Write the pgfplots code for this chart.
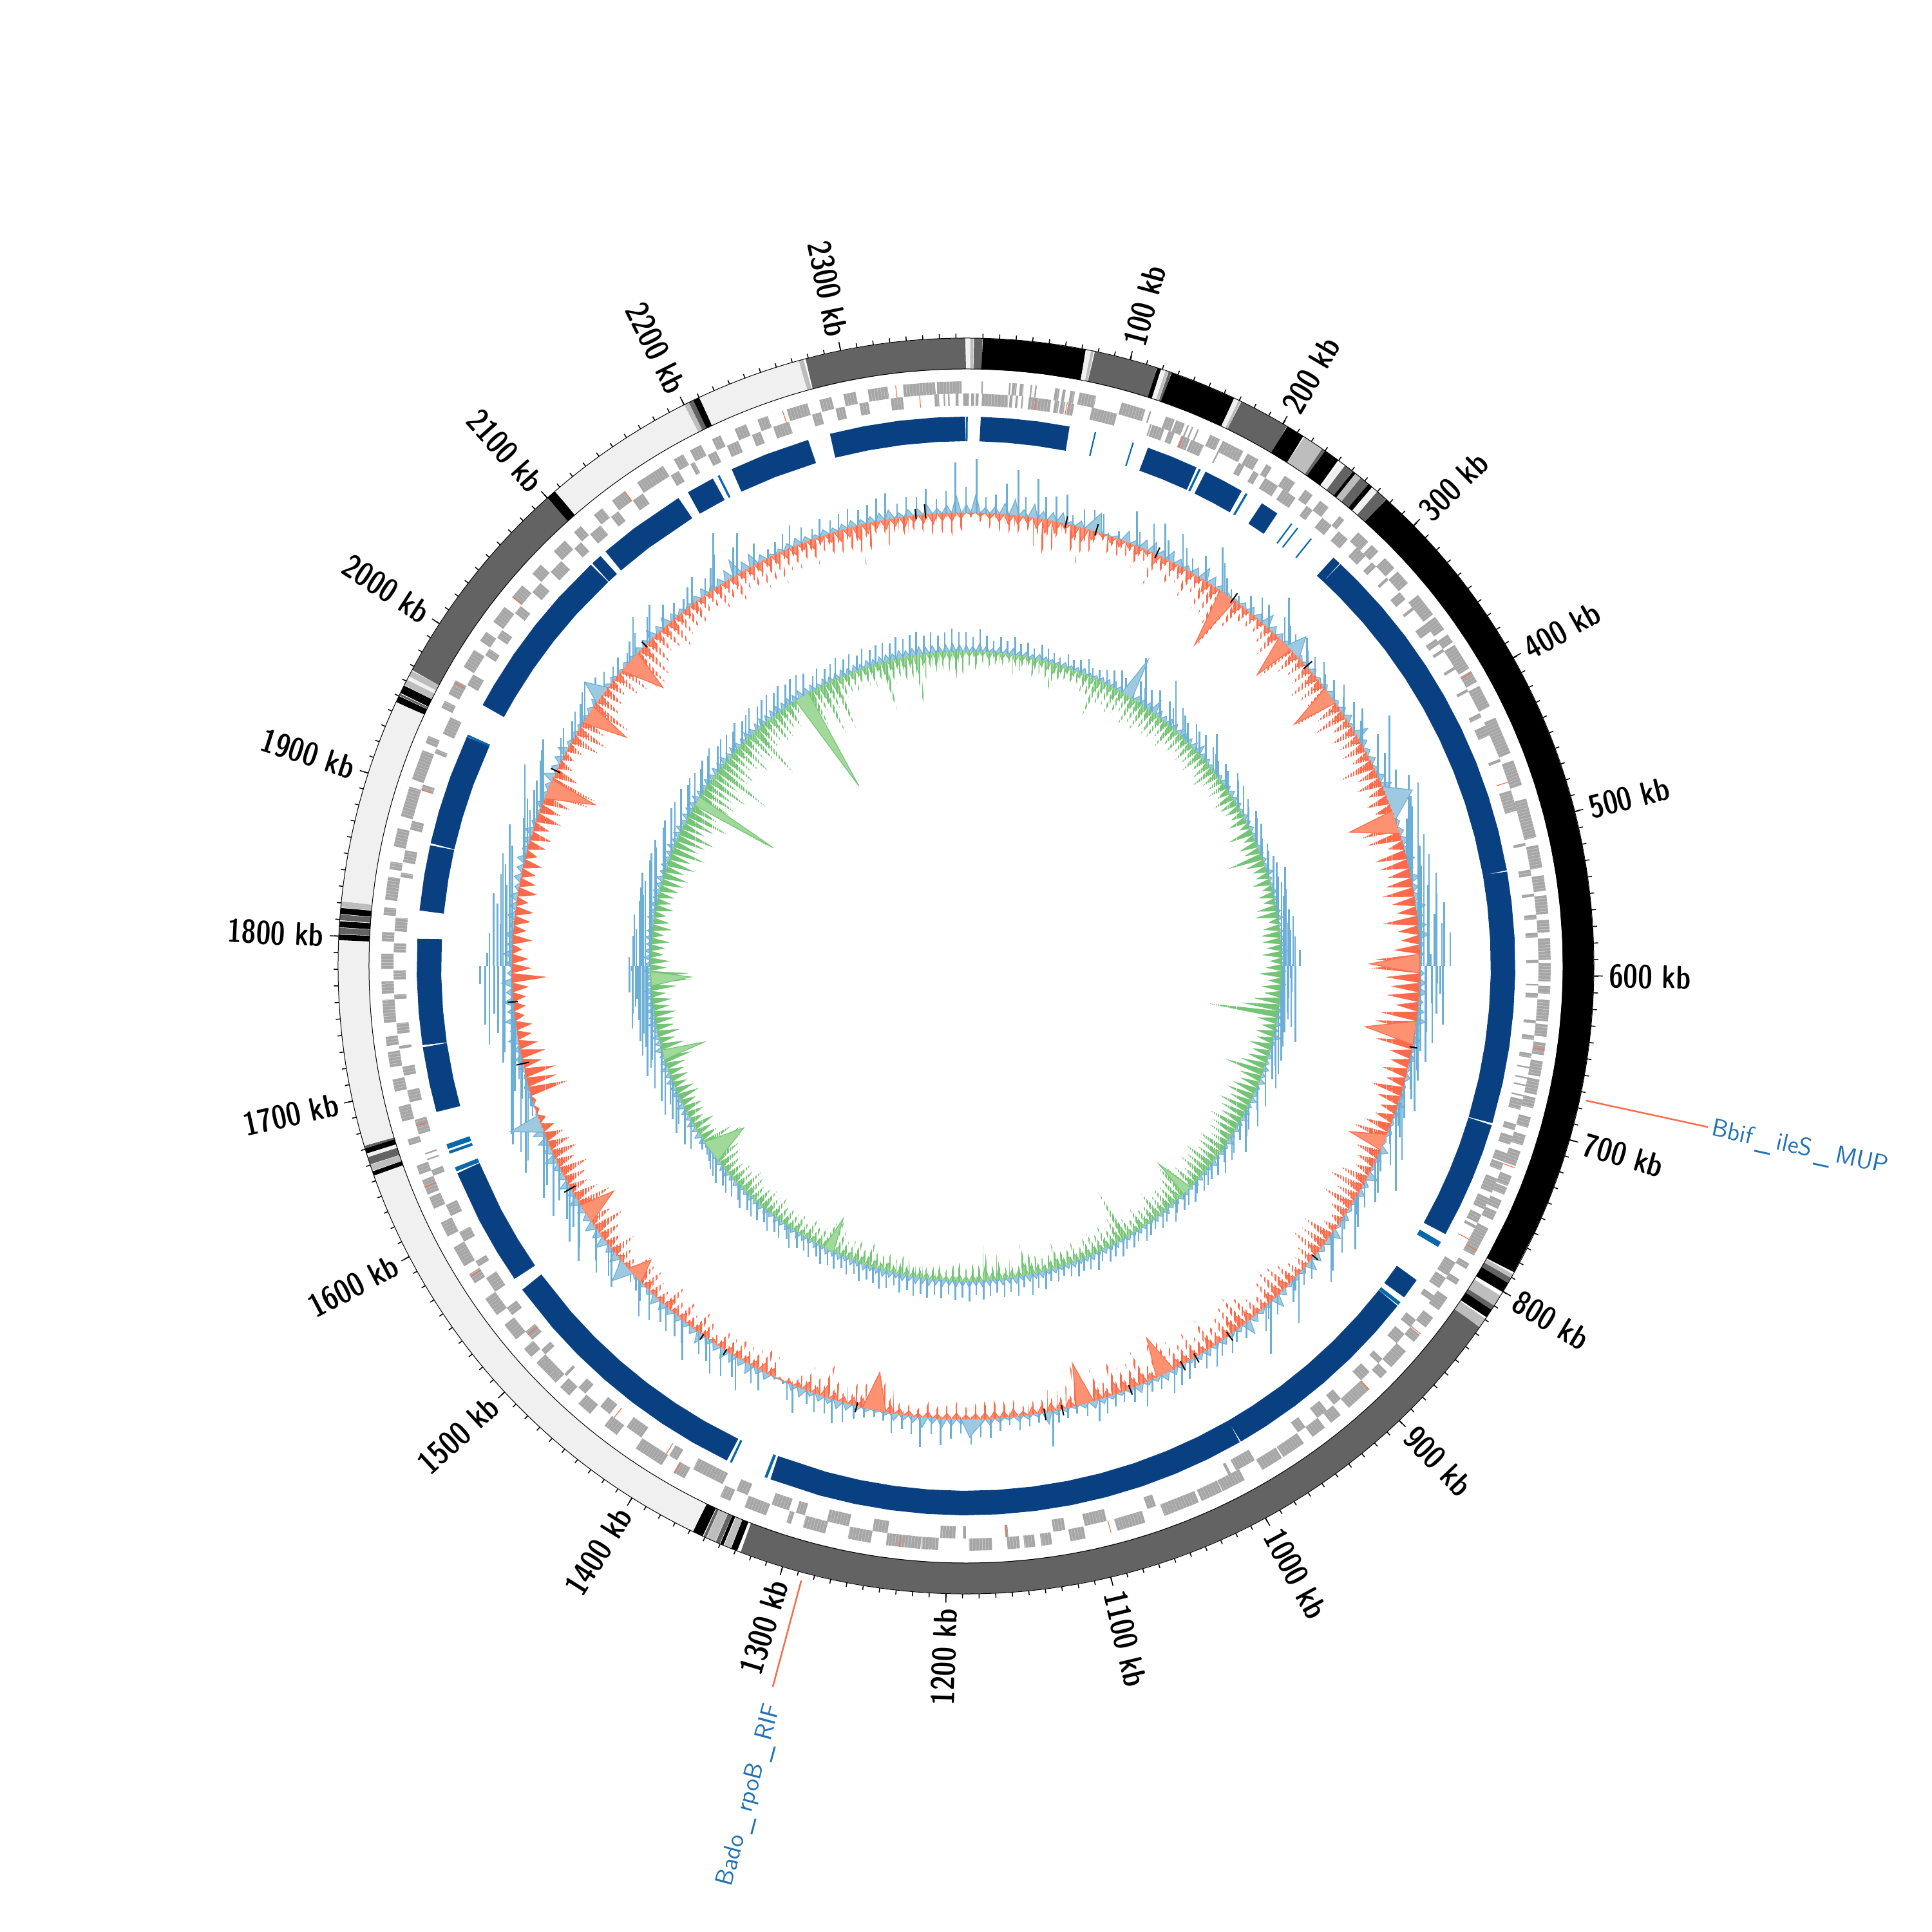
\documentclass[border=0pt]{standalone}
\usepackage{pgfplots}
\usepackage{pgfplotstable}
\pgfplotsset{compat=1.18}
\usepgfplotslibrary{polar}
\pgfplotstableset{row sep=crcr,header=false,x index=0,y index=0}

\definecolor{ringdark}{HTML}{636363}
\definecolor{ringmid}{HTML}{BDBDBD}
\definecolor{ringlight}{HTML}{F0F0F0}
\definecolor{blockblue}{HTML}{084081}
\definecolor{thinblue}{HTML}{0868AC}
\definecolor{genegray}{HTML}{A6A6A6}
\definecolor{redline}{HTML}{FB6A4A}
\definecolor{redfill}{HTML}{FC9272}
\definecolor{blueline}{HTML}{6BAED6}
\definecolor{bluefill}{HTML}{9ECAE1}
\definecolor{greenline}{HTML}{74C476}
\definecolor{greenfill}{HTML}{A1D99B}
\definecolor{labelblue}{HTML}{2171B5}

% GC track, 4 kb per row, signed offset from the baseline circle
\pgfplotstableread{
40\\ -8\\ 83\\ -15\\ 25\\ -25\\ 30\\ -35\\ 48\\ -42\\
70\\ -38\\ 30\\ -28\\ 60\\ -45\\ 35\\ -60\\ 38\\ -52\\
45\\ -25\\ 15\\ -55\\ 28\\ -59\\ 32\\ -42\\ 30\\ -15\\
4\\ -28\\ 12\\ -32\\ 50\\ -22\\ 22\\ -35\\ 42\\ -18\\
50\\ -53\\ 28\\ -25\\ 47\\ -40\\ 30\\ -28\\ 20\\ -45\\
34\\ -30\\ 58\\ -50\\ 40\\ -50\\ 22\\ -62\\ 12\\ -92\\
10\\ -50\\ 22\\ -28\\ 30\\ -25\\ 28\\ -22\\ 57\\ -30\\
30\\ -44\\ 26\\ -30\\ 22\\ -65\\ 31\\ -40\\ 18\\ -32\\
20\\ -36\\ 25\\ -52\\ 14\\ -44\\ 20\\ -40\\ 28\\ -71\\
16\\ -40\\ 25\\ -53\\ 30\\ -30\\ 18\\ -40\\ 60\\ -36\\
30\\ -38\\ 22\\ -30\\ 26\\ -57\\ 18\\ -32\\ 30\\ -40\\
45\\ -28\\ 54\\ -36\\ 35\\ -28\\ 32\\ -73\\ 18\\ -60\\
22\\ -55\\ 36\\ -25\\ 25\\ -50\\ 36\\ -45\\ 20\\ -35\\
40\\ -42\\ 24\\ -50\\ 35\\ -36\\ 45\\ -30\\ 28\\ -55\\
38\\ -32\\ 50\\ -28\\ 24\\ -40\\ 18\\ -70\\ 12\\ -77\\
20\\ -54\\ 28\\ -45\\ 34\\ -50\\ 22\\ -35\\ 30\\ -58\\
42\\ -65\\ 18\\ -77\\ 30\\ -60\\ 14\\ -35\\ 25\\ -30\\
15\\ -39\\ 20\\ -30\\ 12\\ -50\\ 18\\ -35\\ 28\\ -26\\
16\\ -30\\ 12\\ -42\\ 20\\ -55\\ 10\\ -55\\ 37\\ -38\\
24\\ -30\\ 14\\ -25\\ 49\\ -45\\ 26\\ -56\\ 30\\ -35\\
20\\ -51\\ 16\\ -30\\ 27\\ -20\\ 12\\ -23\\ 44\\ -50\\
30\\ -45\\ 22\\ -50\\ 36\\ -30\\ 46\\ -22\\ 20\\ -25\\
18\\ -35\\ 14\\ -45\\ 25\\ -50\\ 54\\ -40\\ 22\\ -25\\
18\\ -30\\ 30\\ -45\\ 62\\ -55\\ 20\\ -50\\ 16\\ -40\\
26\\ -32\\ 20\\ -50\\ 30\\ -30\\ 24\\ -45\\ 14\\ -35\\
25\\ -45\\ 28\\ -60\\ 34\\ -62\\ 20\\ -30\\ 18\\ -55\\
36\\ -40\\ 22\\ -40\\ 16\\ -57\\ 18\\ -25\\ 25\\ -50\\
33\\ -35\\ 20\\ -65\\ 12\\ -35\\ 16\\ -30\\ 20\\ -35\\
54\\ -30\\ 14\\ -32\\ 18\\ -20\\ 22\\ -35\\ 12\\ -30\\
20\\ -32\\ 30\\ -28\\ 28\\ -25\\ 39\\ -20\\ 22\\ -28\\
30\\ -24\\ 41\\ -20\\ 25\\ -28\\ 46\\ -15\\ 28\\ -22\\
22\\ -25\\ 30\\ -35\\ 14\\ -50\\ 10\\ -59\\ 15\\ -40\\
20\\ -35\\ 30\\ -25\\ 36\\ -30\\ 25\\ -54\\ 28\\ -30\\
20\\ -40\\ 40\\ -20\\ 25\\ -12\\ 5\\ -5\\ 4\\ -33\\
30\\ -45\\ 25\\ -30\\ 46\\ -28\\ 30\\ -35\\ 38\\ -25\\
44\\ -30\\ 30\\ -15\\ 28\\ -30\\ 50\\ -36\\ 30\\ -20\\
28\\ -35\\ 30\\ -25\\ 25\\ -43\\ 34\\ -20\\ 40\\ -25\\
22\\ -35\\ 15\\ -35\\ 12\\ -38\\ 38\\ -20\\ 30\\ -25\\
42\\ -41\\ 30\\ -25\\ 52\\ -35\\ 38\\ -52\\ 46\\ -38\\
28\\ -45\\ 30\\ -55\\ 45\\ -40\\ 25\\ -30\\ 44\\ -35\\
30\\ -45\\ 28\\ -30\\ 51\\ -40\\ 40\\ -35\\ 45\\ -30\\
52\\ -20\\ 49\\ -12\\ 8\\ -6\\ 6\\ -5\\ 15\\ -63\\
23\\ -48\\ 12\\ -50\\ 20\\ -30\\ 30\\ -39\\ 25\\ -30\\
46\\ -22\\ 30\\ -25\\ 48\\ -15\\ 32\\ -18\\ 45\\ -20\\
30\\ -25\\ 51\\ -55\\ 22\\ -30\\ 30\\ -25\\ 40\\ -15\\
25\\ -30\\ 38\\ -20\\ 22\\ -25\\ 34\\ -28\\ 30\\ -18\\
38\\ -30\\ 20\\ -25\\ 32\\ -22\\ 28\\ -30\\ 36\\ -18\\
25\\ -28\\ 33\\ -32\\ 38\\ -25\\ 20\\ -40\\ 15\\ -34\\
25\\ -45\\ 20\\ -70\\ 22\\ -76\\ 49\\ -40\\ 30\\ -22\\
35\\ -18\\ 41\\ -25\\ 18\\ -45\\ 22\\ -52\\ 16\\ -40\\
20\\ -60\\ 20\\ -68\\ 28\\ -40\\ 34\\ -35\\ 25\\ -30\\
20\\ -45\\ 15\\ -50\\ 18\\ -60\\ 12\\ -65\\ 22\\ -60\\
25\\ -46\\ 45\\ -35\\ 30\\ -40\\ 42\\ -52\\ 28\\ -38\\
20\\ -35\\ 15\\ -40\\ 26\\ -30\\ 35\\ -28\\ 22\\ -40\\
30\\ -35\\ 45\\ -46\\ 74\\ -30\\ 40\\ -38\\ 56\\ -45\\
30\\ -40\\ 12\\ -50\\ 18\\ -35\\ 25\\ -38\\ 33\\ -30\\
24\\ -42\\ 16\\ -25\\ 26\\ -40\\ 20\\ -49\\ 25\\ -40\\
30\\ -64\\ 24\\ -45\\ 28\\ -30\\ 35\\ -42\\ 41\\ -35\\
22\\ -44\\ 30\\ -30\\ 28\\ -38\\ 40\\ -45\\ 22\\ -35\\
35\\ -38\\ 78\\ -30\\
}\gcA

% skew track, same layout
\pgfplotstableread{
30\\ -25\\ 22\\ -30\\ 35\\ -20\\ 25\\ -33\\ 18\\ -22\\
25\\ -28\\ 20\\ -20\\ 28\\ -30\\ 18\\ -25\\ 22\\ -18\\
15\\ -30\\ 24\\ -22\\ 20\\ -35\\ 16\\ -50\\ 12\\ -28\\
20\\ -20\\ 15\\ -25\\ 18\\ -22\\ 25\\ -30\\ 14\\ -35\\
16\\ -62\\ 20\\ -40\\ 25\\ -35\\ 30\\ -45\\ 22\\ -38\\
65\\ -30\\ 30\\ -50\\ 25\\ -40\\ 28\\ -45\\ 35\\ -35\\
61\\ -40\\ 30\\ -38\\ 25\\ -30\\ 35\\ -42\\ 28\\ -30\\
22\\ -35\\ 30\\ -28\\ 25\\ -35\\ 28\\ -30\\ 41\\ -38\\
24\\ -25\\ 20\\ -32\\ 16\\ -40\\ 22\\ -28\\ 18\\ -25\\
29\\ -30\\ 22\\ -22\\ 25\\ -35\\ 18\\ -28\\ 20\\ -25\\
15\\ -20\\ 22\\ -30\\ 18\\ -15\\ 20\\ -40\\ 15\\ -18\\
12\\ -30\\ 16\\ -25\\ 14\\ -57\\ 18\\ -30\\ 20\\ -22\\
30\\ -20\\ 15\\ -28\\ 18\\ -15\\ 22\\ -24\\ 16\\ -18\\
14\\ -30\\ 20\\ -35\\ 25\\ -15\\ 16\\ -25\\ 18\\ -30\\
24\\ -28\\ 20\\ -22\\ 30\\ -30\\ 14\\ -18\\ 18\\ -25\\
22\\ -35\\ 16\\ -20\\ 24\\ -30\\ 18\\ -25\\ 14\\ -40\\
20\\ -60\\ 15\\ -113\\ 18\\ -30\\ 25\\ -22\\ 16\\ -30\\
36\\ -25\\ 18\\ -35\\ 14\\ -28\\ 22\\ -32\\ 16\\ -40\\
24\\ -64\\ 18\\ -35\\ 28\\ -30\\ 15\\ -40\\ 20\\ -45\\
25\\ -35\\ 16\\ -48\\ 22\\ -40\\ 28\\ -35\\ 18\\ -50\\
20\\ -42\\ 15\\ -38\\ 33\\ -30\\ 18\\ -45\\ 22\\ -40\\
15\\ -35\\ 26\\ -50\\ 20\\ -40\\ 16\\ -45\\ 18\\ -30\\
20\\ -42\\ 14\\ -50\\ 22\\ -60\\ 18\\ -45\\ 20\\ -35\\
15\\ -40\\ 25\\ -32\\ 16\\ -45\\ 20\\ -30\\ 14\\ -28\\
18\\ -35\\ 22\\ -25\\ 15\\ -30\\ 20\\ -86\\ 16\\ -42\\
24\\ -30\\ 18\\ -38\\ 22\\ -28\\ 16\\ -35\\ 26\\ -30\\
20\\ -25\\ 18\\ -32\\ 24\\ -28\\ 20\\ -25\\ 16\\ -40\\
22\\ -30\\ 18\\ -22\\ 28\\ -28\\ 24\\ -35\\ 32\\ -51\\
18\\ -25\\ 30\\ -30\\ 22\\ -25\\ 28\\ -40\\ 20\\ -30\\
24\\ -64\\ 30\\ -25\\ 22\\ -28\\ 32\\ -20\\ 26\\ -30\\
30\\ -25\\ 22\\ -18\\ 28\\ -30\\ 24\\ -22\\ 30\\ -25\\
25\\ -28\\ 30\\ -20\\ 22\\ -25\\ 28\\ -30\\ 20\\ -22\\
26\\ -35\\ 30\\ -25\\ 24\\ -30\\ 22\\ -40\\ 28\\ -28\\
20\\ -35\\ 25\\ -30\\ 18\\ -25\\ 24\\ -38\\ 22\\ -53\\
26\\ -45\\ 18\\ -30\\ 25\\ -28\\ 20\\ -35\\ 22\\ -22\\
28\\ -32\\ 18\\ -25\\ 24\\ -30\\ 20\\ -25\\ 25\\ -35\\
18\\ -28\\ 22\\ -34\\ 24\\ -30\\ 20\\ -25\\ 26\\ -35\\
18\\ -40\\ 22\\ -30\\ 24\\ -35\\ 20\\ -28\\ 25\\ -30\\
22\\ -40\\ 18\\ -45\\ 12\\ -55\\ 8\\ -62\\ 10\\ -50\\
24\\ -30\\ 28\\ -25\\ 22\\ -35\\ 30\\ -22\\ 20\\ -28\\
25\\ -30\\ 32\\ -25\\ 18\\ -35\\ 28\\ -30\\ 24\\ -22\\
30\\ -28\\ 26\\ -25\\ 34\\ -30\\ 25\\ -45\\ 20\\ -65\\
32\\ -38\\ 24\\ -25\\ 30\\ -35\\ 22\\ -28\\ 38\\ -30\\
26\\ -35\\ 34\\ -25\\ 28\\ -30\\ 24\\ -22\\ 35\\ -40\\
18\\ -61\\ 22\\ -60\\ 30\\ -25\\ 26\\ -30\\ 34\\ -20\\
28\\ -22\\ 24\\ -28\\ 30\\ -18\\ 26\\ -30\\ 22\\ -25\\
32\\ -18\\ 25\\ -28\\ 28\\ -22\\ 24\\ -25\\ 30\\ -30\\
26\\ -35\\ 34\\ -40\\ 24\\ -30\\ 28\\ -45\\ 30\\ -35\\
26\\ -55\\ 32\\ -40\\ 22\\ -48\\ 28\\ -60\\ 30\\ -38\\
24\\ -50\\ 30\\ -70\\ 30\\ -45\\ 26\\ -138\\ 32\\ -55\\
26\\ -60\\ 30\\ -50\\ 28\\ -70\\ 24\\ -45\\ 30\\ -95\\
28\\ -50\\ 34\\ -55\\ 26\\ -40\\ 30\\ -48\\ 28\\ -60\\
24\\ -40\\ 32\\ -55\\ 26\\ -90\\ 30\\ -45\\ 35\\ -40\\
28\\ -50\\ 32\\ -45\\ 34\\ -35\\ 30\\ -40\\ 35\\ -25\\
30\\ -35\\ 34\\ -164\\ 34\\ -60\\ 30\\ -40\\ 20\\ -86\\
28\\ -45\\ 22\\ -85\\ 25\\ -35\\ 30\\ -30\\ 24\\ -35\\
28\\ -28\\ 22\\ -30\\ 30\\ -35\\ 24\\ -28\\ 28\\ -80\\
30\\ -40\\ 26\\ -30\\ 34\\ -45\\ 28\\ -35\\ 32\\ -89\\
36\\ -40\\ 28\\ -30\\ 32\\ -45\\ 26\\ -35\\ 30\\ -40\\
35\\ -45\\ 30\\ -38\\
}\gcB

\begin{document}
\begin{tikzpicture}
\path[use as bounding box] (-15cm,-15cm) rectangle (15cm,15cm);

\begin{polaraxis}[
    at={(0,0)},anchor=origin,scale only axis,width=30cm,height=30cm,
    xmin=-270,xmax=90,ymin=0,ymax=1500,
    hide axis,clip=false,
    unbounded coords=jump,
    x filter/.expression={90-0.15152*x},
]
% GC track: low filled band plus one needle per reading, blue out, red in.
% ycomb runs from the centre, so the inner end of each needle is painted over.
\addplot[draw=blueline,fill=bluefill,line width=.12mm] table[x expr=4*\coordindex,y expr={704+0.35*max(\thisrowno{0},0)}] {\gcA};
\addplot[ycomb,blueline,line width=.25mm] table[x expr=4*\coordindex,y expr={704+max(\thisrowno{0},0)}] {\gcA};
\addplot[draw=blueline,fill=bluefill,line width=.12mm] coordinates {(1640,704)(1650,753)(1655,704)};
\addplot[draw=blueline,fill=bluefill,line width=.12mm] coordinates {(297,704)(303,735)(312,704)};
\addplot[draw=blueline,fill=bluefill,line width=.12mm] coordinates {(440,704)(452,745)(470,704)};
\addplot[draw=blueline,fill=bluefill,line width=.12mm] coordinates {(1172,704)(1185,732)(1192,704)};
\addplot[draw=blueline,fill=bluefill,line width=.12mm] coordinates {(2016,704)(2024,738)(2032,704)};
\addplot[draw=blueline,fill=bluefill,line width=.12mm] coordinates {(1500,704)(1507,735)(1515,704)};
\addplot[draw=blueline,fill=bluefill,line width=.12mm] coordinates {(100,704)(110,734)(115,704)};
\addplot[draw=none,fill=redfill] table[x expr=4*\coordindex,y expr=704] {\gcA};
\addplot[draw=redline,fill=white,line width=.12mm] table[x expr=4*\coordindex,y expr={704+0.35*min(\thisrowno{0},0)}] {\gcA};
\addplot[ycomb,redline,line width=.25mm] table[x expr=4*\coordindex,y expr=704] {\gcA};
\addplot[draw=none,fill=white] table[x expr=4*\coordindex,y expr={704+min(\thisrowno{0},0)}] {\gcA};
\addplot[draw=redline,fill=redfill,line width=.12mm] coordinates {(225,704)(234,612)(240,704)};
\addplot[draw=redline,fill=redfill,line width=.12mm] coordinates {(584,704)(592,627)(600,704)};
\addplot[draw=redline,fill=redfill,line width=.12mm] coordinates {(640,704)(651,627)(660,704)};
\addplot[draw=redline,fill=redfill,line width=.12mm] coordinates {(462,704)(467,631)(482,704)};
\addplot[draw=redline,fill=redfill,line width=.12mm] coordinates {(1080,704)(1089,639)(1095,704)};
\addplot[draw=redline,fill=redfill,line width=.12mm] coordinates {(1490,704)(1498,669)(1506,704)};
\addplot[draw=redline,fill=redfill,line width=.12mm] coordinates {(1555,704)(1567,649)(1572,704)};
\addplot[draw=redline,fill=redfill,line width=.12mm] coordinates {(1925,704)(1937,628)(1942,704)};
\addplot[draw=redline,fill=redfill,line width=.12mm] coordinates {(1996,704)(2006,636)(2012,704)};
\addplot[draw=redline,fill=redfill,line width=.12mm] coordinates {(2050,704)(2063,639)(2070,704)};
\addplot[draw=redline,fill=redfill,line width=.12mm] coordinates {(1255,704)(1267,645)(1275,704)};
\addplot[draw=redline,fill=redfill,line width=.12mm] coordinates {(1008,704)(1017,642)(1024,704)};
\addplot[draw=redline,fill=redfill,line width=.12mm] coordinates {(738,704)(748,649)(752,704)};
\addplot[draw=redline,fill=redfill,line width=.12mm] coordinates {(345,704)(354,633)(360,704)};
\addplot[draw=redline,fill=redfill,line width=.12mm] coordinates {(288,704)(297,639)(302,704)};
\addplot[black,line width=.2mm] coordinates {
(84,698)(84,716)(nan,nan)(110,698)(110,716)(nan,nan)(164,698)(164,716)(nan,nan)(238,698)(238,716)(nan,nan)
(321,698)(321,716)(nan,nan)(662,700)(662,712)(nan,nan)(857,700)(857,712)(nan,nan)(954,698)(954,714)(nan,nan)
(987,698)(987,714)(nan,nan)(1000,698)(1000,714)(nan,nan)(1048,698)(1048,714)(nan,nan)(1107,698)(1107,714)(nan,nan)
(1122,698)(1122,716)(nan,nan)(1280,698)(1280,714)(nan,nan)(1399,702)(1399,712)(nan,nan)(1422,702)(1422,712)(nan,nan)
(1588,696)(1588,716)(nan,nan)(1700,695)(1700,715)(nan,nan)(1752,698)(1752,714)(nan,nan)(1950,698)(1950,714)(nan,nan)
(2079,700)(2079,712)(nan,nan)(2334,698)(2334,714)(nan,nan)(2342,698)(2342,720)
};
% skew track: blue out, green in
\addplot[draw=blueline,fill=bluefill,line width=.12mm] table[x expr=4*\coordindex,y expr={489+0.35*max(\thisrowno{0},0)}] {\gcB};
\addplot[ycomb,blueline,line width=.25mm] table[x expr=4*\coordindex,y expr={489+max(\thisrowno{0},0)}] {\gcB};
\addplot[draw=blueline,fill=bluefill,line width=.12mm] coordinates {(196,489)(203,554)(210,489)};
\addplot[draw=none,fill=greenfill] table[x expr=4*\coordindex,y expr=489] {\gcB};
\addplot[draw=greenline,fill=white,line width=.12mm] table[x expr=4*\coordindex,y expr={489+0.35*min(\thisrowno{0},0)}] {\gcB};
\addplot[ycomb,greenline,line width=.25mm] table[x expr=4*\coordindex,y expr=489] {\gcB};
\addplot[draw=none,fill=white] table[x expr=4*\coordindex,y expr={489+min(\thisrowno{0},0)}] {\gcB};
\addplot[draw=greenline,fill=greenfill,line width=.12mm] coordinates {(2160,489)(2173,325)(2178,489)};
\addplot[draw=greenline,fill=greenfill,line width=.12mm] coordinates {(1984,489)(1990,351)(1996,489)};
\addplot[draw=greenline,fill=greenfill,line width=.12mm] coordinates {(1530,489)(1544,427)(1558,489)};
\addplot[draw=greenline,fill=greenfill,line width=.12mm] coordinates {(1668,489)(1675,424)(1680,489)};
\addplot[draw=greenline,fill=greenfill,line width=.12mm] coordinates {(1758,489)(1767,428)(1775,489)};
\addplot[draw=greenline,fill=greenfill,line width=.12mm] coordinates {(1352,489)(1359,436)(1365,489)};
\addplot[draw=greenline,fill=greenfill,line width=.12mm] coordinates {(888,489)(896,429)(900,489)};

% outer band
\addplot[ringdark,line width=4.8mm] table[x index=0,y expr=951] {
4.8\\ 10\\ nan\\ 78\\ 97\\ 117\\ nan\\ 124.3\\ 126\\ nan\\ 171.5\\ 187\\ 203\\ nan\\ 228\\ 230\\ nan\\ 245\\ 251\\ nan\\ 257\\ 263\\ nan\\ 270\\ 277\\ nan\\
790.5\\ 794\\ nan\\ 810\\ 813\\ nan\\
825.5\\ 845\\ 865\\ 885\\ 905\\ 925\\ 945\\ 965\\ 985\\ 1005\\ 1025\\ 1045\\ 1065\\ 1085\\ 1105\\ 1125\\ 1145\\ 1165\\ 1185\\ 1205\\ 1225\\ 1245\\ 1265\\ 1285\\ 1305\\ 1327\\ nan\\
1340.3\\ 1343\\ nan\\ 1349.3\\ 1351\\ nan\\ 1660.3\\ 1665\\ nan\\ 1670.5\\ 1672\\ nan\\ 1801.3\\ 1805\\ nan\\ 1809.5\\ 1813\\ nan\\ 1950.3\\ 1951.5\\ nan\\
1967.3\\ 1987\\ 2007\\ 2027\\ 2047\\ 2067\\ 2087\\ 2100\\ nan\\ 2203\\ 2206\\ nan\\
2278\\ 2298\\ 2318\\ 2338\\ 2358\\ 2375.7\\
};
\addplot[black,line width=4.8mm] table[x index=0,y expr=951] {
10\\ 30\\ 50\\ 72.8\\ nan\\ 117\\ 119.5\\ nan\\ 126\\ 146\\ 167\\ nan\\ 203\\ 214.5\\ nan\\ 230\\ 240\\ nan\\ 251\\ 253\\ nan\\ 263\\ 266\\ nan\\
277\\ 297\\ 317\\ 337\\ 357\\ 377\\ 397\\ 417\\ 437\\ 457\\ 477\\ 497\\ 517\\ 537\\ 557\\ 577\\ 597\\ 617\\ 637\\ 657\\ 677\\ 697\\ 717\\ 737\\ 757\\ 787\\ nan\\
794\\ 800.5\\ nan\\ 813\\ 818.5\\ nan\\ 1329\\ 1333\\ nan\\ 1338\\ 1340\\ nan\\ 1351.5\\ 1358\\ nan\\ 1653.3\\ 1656\\ nan\\ 1667.3\\ 1670.5\\ nan\\
1797.5\\ 1801\\ nan\\ 1805.3\\ 1809\\ nan\\ 1813.3\\ 1817\\ nan\\ 1946\\ 1950\\ nan\\ 1952\\ 1957\\ nan\\ 2100\\ 2106\\ nan\\ 2206\\ 2210\\
};
\addplot[ringmid,line width=4.8mm] table[x index=0,y expr=951] {
2.6\\ 4.5\\ nan\\ 75.8\\ 77.5\\ nan\\ 122.3\\ 124\\ nan\\ 169.8\\ 171.3\\ nan\\ 215\\ 228\\ nan\\ 253\\ 257\\ nan\\ 788\\ 790.5\\ nan\\ 803\\ 810\\ nan\\ 819.5\\ 825.5\\ nan\\
1333.3\\ 1337.5\\ nan\\ 1343.3\\ 1349\\ nan\\ 1656.3\\ 1660\\ nan\\ 1817.3\\ 1821\\ nan\\ 1957.3\\ 1961\\ nan\\ 1963.3\\ 1967\\ nan\\ 2200\\ 2203\\ nan\\ 2274\\ 2277\\
};
\addplot[ringlight,line width=4.8mm] table[x index=0,y expr=951] {
0.2\\ 2.3\\ nan\\ 73\\ 75.5\\ nan\\ 120\\ 122\\ nan\\ 167\\ 169.5\\ nan\\ 241\\ 245\\ nan\\ 266\\ 270\\ nan\\
1358\\ 1378\\ 1398\\ 1418\\ 1438\\ 1458\\ 1478\\ 1498\\ 1518\\ 1538\\ 1558\\ 1578\\ 1598\\ 1618\\ 1638\\ 1653\\ nan\\ 1665\\ 1667\\ nan\\
1672\\ 1692\\ 1712\\ 1732\\ 1752\\ 1772\\ 1797\\ nan\\ 1821\\ 1841\\ 1861\\ 1881\\ 1901\\ 1921\\ 1946\\ nan\\ 1961.3\\ 1963\\ nan\\
2106\\ 2126\\ 2146\\ 2166\\ 2186\\ 2200\\ nan\\ 2210\\ 2230\\ 2250\\ 2274\\
};

% gene rows, start and end of each block in kb
\addplot[genegray,line width=1.9mm,dash pattern=on .45mm off .05mm] table[x index=0,y expr=898.5] {
10\\ 11\\ nan\\ 28\\ 29\\ nan\\ 30\\ 33\\ nan\\ 35\\ 37.5\\ nan\\ 42\\ 43\\ nan\\ 45\\ 46\\ nan\\ 58\\ 61\\ nan\\ 63\\ 65\\ nan\\ 68\\ 71\\ nan\\ 74\\ 85\\ nan\\
102\\ 118\\ nan\\ 121\\ 122\\ nan\\ 132\\ 138\\ nan\\ 139\\ 145\\ nan\\ 147\\ 148\\ nan\\ 150\\ 151\\ nan\\ 154\\ 155\\ nan\\ 163\\ 170\\ nan\\ 172\\ 187\\ nan\\
190\\ 198\\ nan\\ 204\\ 208\\ nan\\ 218\\ 226\\ nan\\ 234\\ 240\\ nan\\ 246\\ 253\\ nan\\ 262\\ 266\\ nan\\ 278\\ 287\\ nan\\ 290\\ 296\\ nan\\ 302\\ 311\\ nan\\
314\\ 324\\ nan\\ 334\\ 350\\ nan\\ 352\\ 362\\ nan\\ 366\\ 372\\ nan\\ 374\\ 392\\ nan\\ 394\\ 402\\ nan\\ 405\\ 420\\ nan\\ 428\\ 453\\ nan\\ 458\\ 475\\ nan\\
484\\ 510\\ nan\\ 515\\ 530\\ nan\\ 535\\ 545\\ nan\\ 548\\ 560\\ nan\\ 564\\ 572\\ nan\\ 576\\ 590\\ nan\\ 592\\ 604\\ nan\\ 607\\ 612\\ nan\\ 616\\ 630\\ nan\\
632\\ 640\\ nan\\ 644\\ 652\\ nan\\ 656\\ 666\\ nan\\ 668\\ 678\\ nan\\ 680\\ 687\\ nan\\ 693\\ 700\\ nan\\ 705\\ 712\\ nan\\ 716\\ 726\\ nan\\ 733\\ 740\\ nan\\
741\\ 746\\ nan\\ 750\\ 756\\ nan\\ 758\\ 764\\ nan\\ 770\\ 790\\ nan\\ 796\\ 800\\ nan\\ 808\\ 812\\ nan\\ 822\\ 832\\ nan\\ 838\\ 846\\ nan\\ 852\\ 858\\ nan\\
866\\ 880\\ nan\\ 884\\ 890\\ nan\\ 900\\ 918\\ nan\\ 925\\ 933\\ nan\\ 938\\ 948\\ nan\\ 955\\ 971\\ nan\\ 972\\ 987\\ nan\\ 1000\\ 1016\\ nan\\ 1016.5\\ 1031\\ nan\\
1033\\ 1057\\ nan\\ 1070\\ 1089\\ nan\\ 1110\\ 1120\\ nan\\ 1132\\ 1139\\ nan\\ 1143\\ 1150\\ nan\\ 1153\\ 1161\\ nan\\ 1171\\ 1186\\ nan\\ 1206\\ 1217\\ nan\\
1217.5\\ 1240\\ nan\\ 1250\\ 1265\\ nan\\ 1280\\ 1295\\ nan\\ 1303\\ 1306\\ nan\\ 1320\\ 1335\\ nan\\ 1345\\ 1352\\ nan\\ 1378\\ 1386\\ nan\\ 1395\\ 1415\\ nan\\
1430\\ 1440\\ nan\\ 1452\\ 1462\\ nan\\ 1470\\ 1478\\ nan\\ 1482\\ 1500\\ nan\\ 1505\\ 1512\\ nan\\ 1520\\ 1532\\ nan\\ 1540\\ 1553\\ nan\\ 1565\\ 1572\\ nan\\
1578\\ 1592\\ nan\\ 1600\\ 1610\\ nan\\ 1620\\ 1628\\ nan\\ 1630\\ 1640\\ nan\\ 1644\\ 1650\\ nan\\ 1664\\ 1668\\ nan\\ 1680\\ 1690\\ nan\\ 1700\\ 1708\\ nan\\
1716\\ 1726\\ nan\\ 1730\\ 1736\\ nan\\ 1745\\ 1760\\ nan\\ 1764\\ 1772\\ nan\\ 1780\\ 1790\\ nan\\ 1798\\ 1804\\ nan\\ 1815\\ 1820\\ nan\\ 1825\\ 1840\\ nan\\
1845\\ 1850\\ nan\\ 1860\\ 1872\\ nan\\ 1880\\ 1900\\ nan\\ 1905\\ 1925\\ nan\\ 1930\\ 1935\\ nan\\ 1955\\ 1960\\ nan\\ 1965\\ 1975\\ nan\\ 1985\\ 1998\\ nan\\
2005\\ 2012\\ nan\\ 2020\\ 2032\\ nan\\ 2040\\ 2050\\ nan\\ 2060\\ 2068\\ nan\\ 2080\\ 2090\\ nan\\ 2098\\ 2104\\ nan\\ 2115\\ 2122\\ nan\\ 2130\\ 2140\\ nan\\
2150\\ 2170\\ nan\\ 2178\\ 2185\\ nan\\ 2190\\ 2198\\ nan\\ 2206\\ 2212\\ nan\\ 2222\\ 2230\\ nan\\ 2238\\ 2245\\ nan\\ 2258\\ 2272\\ nan\\ 2280\\ 2288\\ nan\\
2296\\ 2304\\ nan\\ 2312\\ 2325\\ nan\\ 2335\\ 2356\\ nan\\ 2357\\ 2373\\
};
\addplot[genegray,line width=1.9mm,dash pattern=on .45mm off .05mm] table[x index=0,y expr=879.5] {
0\\ 2\\ nan\\ 3.5\\ 5.5\\ nan\\ 6.4\\ 8.5\\ nan\\ 10.6\\ 28\\ nan\\ 29\\ 31\\ nan\\ 33\\ 34.5\\ nan\\ 37\\ 38\\ nan\\ 41.7\\ 56.5\\ nan\\ 59\\ 62\\ nan\\ 63\\ 66\\ nan\\
68\\ 72\\ nan\\ 84\\ 101\\ nan\\ 124\\ 125\\ nan\\ 125.5\\ 134\\ nan\\ 137\\ 141\\ nan\\ 146\\ 152\\ nan\\ 153\\ 162\\ nan\\ 172\\ 173\\ nan\\ 188\\ 192\\ nan\\
199\\ 203\\ nan\\ 208\\ 218\\ nan\\ 222\\ 232\\ nan\\ 241\\ 246\\ nan\\ 254\\ 262\\ nan\\ 268\\ 276\\ nan\\ 284\\ 292\\ nan\\ 298\\ 302\\ nan\\ 312\\ 314\\ nan\\
325\\ 331\\ nan\\ 338\\ 340\\ nan\\ 352\\ 358\\ nan\\ 364\\ 368\\ nan\\ 372\\ 374\\ nan\\ 386\\ 388\\ nan\\ 403\\ 405\\ nan\\ 421\\ 424\\ nan\\ 430\\ 437\\ nan\\
454\\ 456\\ nan\\ 476\\ 490\\ nan\\ 512\\ 514\\ nan\\ 530\\ 534\\ nan\\ 546\\ 548\\ nan\\ 560\\ 563\\ nan\\ 572\\ 575\\ nan\\ 590\\ 592\\ nan\\ 606\\ 607\\ nan\\
612\\ 615\\ nan\\ 630\\ 632\\ nan\\ 640\\ 643\\ nan\\ 652\\ 655\\ nan\\ 661\\ 662\\ nan\\ 668\\ 669\\ nan\\ 673\\ 674\\ nan\\ 680\\ 681\\ nan\\ 683\\ 690\\ nan\\
700\\ 704\\ nan\\ 708\\ 714\\ nan\\ 720\\ 726\\ nan\\ 727\\ 732\\ nan\\ 738\\ 748\\ nan\\ 752\\ 760\\ nan\\ 764\\ 770\\ nan\\ 772\\ 774\\ nan\\ 800\\ 810\\ nan\\
812\\ 820\\ nan\\ 826\\ 830\\ nan\\ 846\\ 852\\ nan\\ 858\\ 866\\ nan\\ 880\\ 884\\ nan\\ 892\\ 900\\ nan\\ 918\\ 924\\ nan\\ 930\\ 938\\ nan\\ 948\\ 954\\ nan\\
988\\ 1002\\ nan\\ 1006\\ 1008\\ nan\\ 1060\\ 1066\\ nan\\ 1094\\ 1109\\ nan\\ 1122\\ 1130\\ nan\\ 1160\\ 1162\\ nan\\ 1188\\ 1190\\ nan\\ 1195\\ 1205\\ nan\\
1240\\ 1250\\ nan\\ 1266\\ 1281\\ nan\\ 1296\\ 1302\\ nan\\ 1307\\ 1319\\ nan\\ 1336\\ 1344\\ nan\\ 1354\\ 1376\\ nan\\ 1388\\ 1394\\ nan\\ 1416\\ 1428\\ nan\\
1442\\ 1450\\ nan\\ 1463\\ 1469\\ nan\\ 1480\\ 1482\\ nan\\ 1500\\ 1504\\ nan\\ 1513\\ 1520\\ nan\\ 1534\\ 1540\\ nan\\ 1553\\ 1564\\ nan\\ 1573\\ 1577\\ nan\\
1592\\ 1599\\ nan\\ 1611\\ 1619\\ nan\\ 1640\\ 1644\\ nan\\ 1651\\ 1652\\ nan\\ 1655\\ 1656\\ nan\\ 1669\\ 1679\\ nan\\ 1691\\ 1699\\ nan\\ 1709\\ 1715\\ nan\\
1727\\ 1729\\ nan\\ 1737\\ 1744\\ nan\\ 1760\\ 1763\\ nan\\ 1773\\ 1779\\ nan\\ 1791\\ 1797\\ nan\\ 1805\\ 1814\\ nan\\ 1841\\ 1844\\ nan\\ 1851\\ 1859\\ nan\\
1873\\ 1879\\ nan\\ 1900\\ 1904\\ nan\\ 1926\\ 1929\\ nan\\ 1940\\ 1952\\ nan\\ 1976\\ 1984\\ nan\\ 1999\\ 2004\\ nan\\ 2013\\ 2019\\ nan\\ 2033\\ 2039\\ nan\\
2051\\ 2059\\ nan\\ 2069\\ 2079\\ nan\\ 2091\\ 2097\\ nan\\ 2105\\ 2114\\ nan\\ 2123\\ 2129\\ nan\\ 2141\\ 2149\\ nan\\ 2171\\ 2177\\ nan\\ 2186\\ 2189\\ nan\\
2199\\ 2205\\ nan\\ 2213\\ 2221\\ nan\\ 2231\\ 2237\\ nan\\ 2246\\ 2257\\ nan\\ 2273\\ 2279\\ nan\\ 2289\\ 2295\\ nan\\ 2305\\ 2311\\ nan\\ 2326\\ 2334\\ nan\\
2355\\ 2358\\ nan\\ 2361\\ 2362\\ nan\\ 2364\\ 2365\\ nan\\ 2369\\ 2371\\ nan\\ 2374\\ 2376\\
};
% red genes
\addplot[redline,line width=1.9mm] table[x index=0,y expr=879.5] {
46\\ 46.5\\ nan\\ 67\\ 67.5\\ nan\\ 147\\ 147.5\\ nan\\ 470\\ 470.5\\ nan\\ 782\\ 782.5\\ nan\\ 1161\\ 1161.5\\ nan\\ 1396\\ 1396.5\\ nan\\ 1438\\ 1438.5\\ nan\\ 1517\\ 1517.5\\ nan\\ 1675\\ 1675.5\\ nan\\ 1900\\ 1900.5\\ nan\\ 2345\\ 2345.5\\
};
\addplot[redline,line width=1.9mm] table[x index=0,y expr=898.5] {
395\\ 395.5\\ nan\\ 648\\ 648.5\\ nan\\ 727\\ 727.5\\ nan\\ 786\\ 786.5\\ nan\\ 851\\ 851.5\\ nan\\ 900\\ 900.5\\ nan\\ 1093\\ 1093.5\\ nan\\ 1231\\ 1231.5\\ nan\\ 1385\\ 1385.5\\ nan\\ 1570\\ 1570.5\\ nan\\ 1635\\ 1635.5\\ nan\\ 1973\\ 1973.5\\ nan\\ 2040\\ 2040.5\\ nan\\ 2140\\ 2140.5\\ nan\\ 2255\\ 2255.5\\ nan\\ 2330\\ 2330.5\\
};

% contig blocks
\addplot[blockblue,line width=3.8mm] table[x index=0,y expr=834] {
10\\ 30\\ 50\\ 72\\ nan\\ 127.5\\ 145\\ 164\\ nan\\ 170.5\\ 185\\ 199\\ nan\\ 215\\ 228\\ nan\\
277\\ 283\\ nan\\ 283.4\\ 300\\ 325\\ 350\\ 375\\ 400\\ 425\\ 450\\ 475\\ 500\\ 528\\ nan\\ 528.4\\ 550\\ 575\\ 600\\ 625\\ 650\\ 675\\ 704\\ nan\\
705\\ 725\\ 745\\ 765\\ 787\\ nan\\ 824\\ 839\\ nan\\ 846\\ 870\\ 895\\ 920\\ 945\\ 970\\ 990\\ nan\\ 990.4\\ 1015\\ 1040\\ 1065\\ 1090\\ 1115\\ 1140\\ 1165\\ 1190\\ 1215\\ 1240\\ 1265\\ 1290\\ 1326\\ nan\\
1358\\ 1385\\ 1410\\ 1435\\ 1460\\ 1485\\ 1510\\ 1544\\ nan\\ 1552.5\\ 1575\\ 1600\\ 1636\\ nan\\ 1680\\ 1700\\ 1726\\ nan\\ 1727\\ 1750\\ 1775\\ 1801\\ nan\\
1820\\ 1845\\ 1866\\ nan\\ 1867\\ 1890\\ 1915\\ 1945\\ nan\\ 1969\\ 1985\\ 2010\\ 2035\\ 2060\\ 2092\\ nan\\ 2093\\ 2100.7\\ nan\\ 2105\\ 2130\\ 2168\\ nan\\ 2175\\ 2195\\ nan\\
2209\\ 2235\\ 2266\\ nan\\ 2281\\ 2305\\ 2330\\ 2355\\ 2375.5\\
};
\addplot[thinblue,line width=3.8mm] table[x index=0,y expr=834] {
0\\ 1.2\\ nan\\ 89.5\\ 90.5\\ nan\\ 116.5\\ 117.5\\ nan\\ 165.5\\ 167\\ nan\\ 202\\ 203.5\\ nan\\ 239.5\\ 240.5\\ nan\\ 244.5\\ 245.5\\ nan\\ 256.5\\ 257.5\\ nan\\ 793\\ 797\\ nan\\ 843\\ 845.5\\ nan\\
1328\\ 1330\\ nan\\ 1354.5\\ 1356\\ nan\\ 1637\\ 1640\\ nan\\ 1650\\ 1652\\ nan\\ 1653.5\\ 1657\\ nan\\ 1945\\ 1946.5\\ nan\\ 2198.5\\ 2200\\
};

% leader lines of the two marked genes
\addplot[redline,line width=.25mm] coordinates {(674.8,985)(674.8,1179)};
\addplot[redline,line width=.25mm] coordinates {(1287,988)(1287,1159)};
\end{polaraxis}

% ticks on the outer circle: major every 100 kb, minor every 10 kb
\begin{polaraxis}[
    at={(0,0)},anchor=origin,scale only axis,width=19.5cm,height=19.5cm,
    xmin=-270,xmax=90,ymin=0,ymax=975,
    grid=none,hide y axis,
    xtick={-258.485,-243.333,...,74.9},
    minor xtick={-269.09,-267.575,...,88.5},
    xticklabels={},
    tick align=inside,major tick length=1.4mm,minor tick length=.7mm,
    tick style={black,line width=.15mm},
    axis line style={black,line width=.1mm},
]
\end{polaraxis}

\draw[black,line width=.1mm] (0,0) circle (9.27cm);

% position labels run along the radius, flipped on the left half
\newcommand{\kblabel}[1]{\fontsize{14.5}{14.5}\fontseries{sbc}\sffamily\selectfont\scalebox{.93}[1]{#1 kb}}
\foreach \k in {100,200,...,1100}{
  \pgfmathsetmacro{\t}{90-0.15152*\k}
  \node[rotate=\t,anchor=west,inner sep=0pt] at (\t:9.98cm) {\kblabel{\k}};
}
\foreach \k in {1200,1300,...,2300}{
  \pgfmathsetmacro{\t}{90-0.15152*\k}
  \node[rotate=\t+180,anchor=east,inner sep=0pt] at (\t:9.98cm) {\kblabel{\k}};
}
\newcommand{\gap}{\,\raisebox{-.12em}{\_}\,}
\node[rotate=-12.25,anchor=west,inner sep=0pt,text=labelblue,font=\fontsize{11}{12}\selectfont\sffamily] at (-12.4:11.85cm) {Bbif\gap ileS\gap MUP};
\node[rotate=75,anchor=east,inner sep=0pt,text=labelblue,font=\fontsize{11}{12}\selectfont\sffamily] at (-104.5:11.85cm) {Bado\gap rpoB\gap RIF};
\end{tikzpicture}
\end{document}
